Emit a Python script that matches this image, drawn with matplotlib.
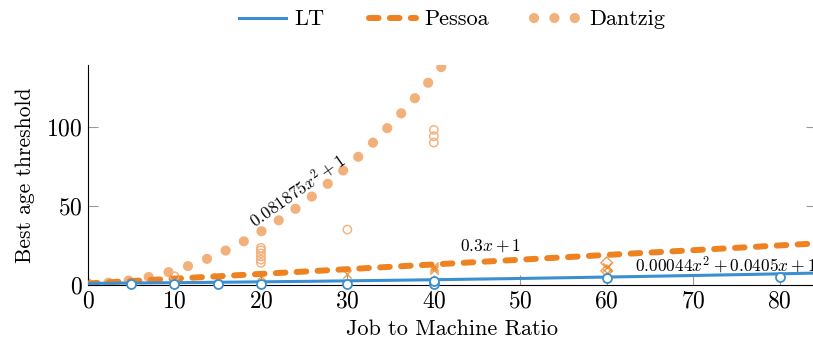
import numpy as np
import matplotlib
matplotlib.use("Agg")
import matplotlib.pyplot as plt
from matplotlib.lines import Line2D

plt.rcParams["font.family"] = ["cmr10", "DejaVu Serif"]
plt.rcParams["mathtext.fontset"] = "cm"
plt.rcParams["axes.formatter.use_mathtext"] = True

# fitted curves (coefficients as printed on the chart, highest power first)
lt_coef = [0.00044, 0.0405, 1]
pessoa_coef = [0.3, 1]
dantzig_coef = [0.081875, 0, 1]

# measured points
lt_x = [5, 10, 15, 20, 30, 40, 40, 60, 80]
lt_y = [0.8, 0.8, 0.8, 0.8, 0.8, 0.8, 2.8, 4.5, 5.0]

pessoa_x = [10, 15, 20, 30, 40, 40, 40, 60, 60]
pessoa_y = [3.5, 5.0, 5.5, 7.0, 9.5, 11.0, 12.0, 11.5, 7.5]
pessoa_dx = [60, 60]
pessoa_dy = [14.0, 9.0]

dantzig_x = [10, 20, 20, 20, 20, 20, 20, 30, 40, 40, 40]
dantzig_y = [5.5, 14, 16, 18, 20, 22, 23.5, 35, 90, 94, 98]

c_lt = "#3a8fd0"
c_pes = "#ee8220"
c_dan = "#f2b07a"

fig = plt.figure(figsize=(8.13, 3.39), dpi=100)
ax = fig.add_axes([88 / 813, 54 / 339, (816 - 88) / 813, 220 / 339])

xs = np.linspace(0, 90, 600)
ax.plot(xs, np.polyval(dantzig_coef, xs), color=c_dan, lw=7.3,
        linestyle=(0, (0.01, 2.0)), dash_capstyle="round", zorder=2)
ax.plot(xs, np.polyval(pessoa_coef, xs), color=c_pes, lw=4.3,
        linestyle=(0, (1.6, 1.9)), dash_capstyle="round", zorder=3)
ax.plot(xs, np.polyval(lt_coef, xs), color=c_lt, lw=2.2, zorder=4)

ax.scatter(dantzig_x, dantzig_y, s=36, facecolors="none", edgecolors=c_dan,
           linewidths=1.0, zorder=3)
ax.scatter(pessoa_x, pessoa_y, s=36, marker="x", color=c_pes, linewidths=1.0,
           zorder=3, alpha=0.8)
ax.scatter(pessoa_dx, pessoa_dy, s=36, marker="D", facecolors="none",
           edgecolors=c_pes, linewidths=1.0, zorder=3, alpha=0.8)
ax.scatter(lt_x, lt_y, s=42, facecolors="white", edgecolors=c_lt,
           linewidths=1.3, zorder=5, clip_on=False)

ax.text(24.2, 60, r"$0.081875x^2+1$", rotation=35, fontsize=12.5,
        ha="center", va="center")
ax.text(46.5, 25, r"$0.3x+1$", fontsize=12.5, ha="center", va="center")
ax.text(63.3, 13, r"$0.00044x^2+0.0405x+1$", fontsize=12.5,
        ha="left", va="center", clip_on=False)

ax.set_xlim(0, 84.2)
ax.set_ylim(0, 139)
ax.set_xticks([0, 10, 20, 30, 40, 50, 60, 70, 80])
ax.set_yticks([0, 50, 100])
ax.tick_params(axis="both", direction="in", length=7, color="#999999",
               labelsize=17, pad=4)
ax.tick_params(axis="y", right=True)
ax.spines["top"].set_visible(False)
ax.set_xlabel("Job to Machine Ratio", fontsize=16, labelpad=5)
ax.set_ylabel("Best age threshold", fontsize=15.5, labelpad=8)

handles = [
    Line2D([], [], color=c_lt, lw=2.2),
    Line2D([], [], color=c_pes, lw=4.3, linestyle=(0, (1.6, 1.9)),
           dash_capstyle="round"),
    Line2D([], [], color=c_dan, lw=7.3, linestyle=(0, (0.01, 2.0)),
           dash_capstyle="round"),
]
fig.legend(handles, ["LT", "Pessoa", "Dantzig"], loc="upper center",
           bbox_to_anchor=(0.556, 1.03), ncol=3, frameon=False, fontsize=16,
           handlelength=2.1, columnspacing=2.0, handletextpad=0.4)

fig.savefig("out.png", dpi=100)
